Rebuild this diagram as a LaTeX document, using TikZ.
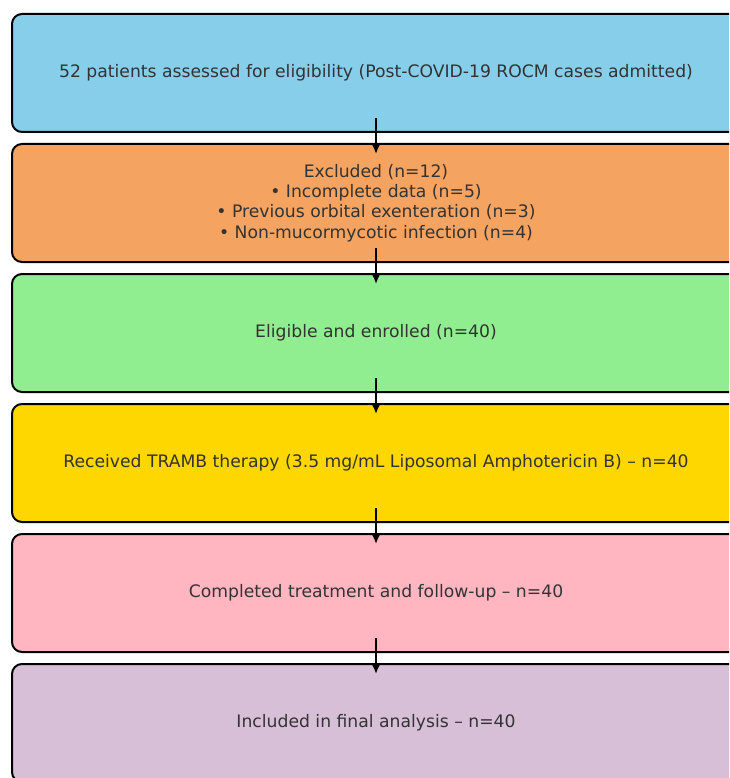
\documentclass[tikz,border=0pt]{standalone}
\usepackage{fontspec}
\setmainfont{DejaVu Sans}
\usepackage{tikz}
\usetikzlibrary{arrows.meta,positioning}
\definecolor{boxblue}{HTML}{87CEEB}
\definecolor{boxorange}{HTML}{F4A460}
\definecolor{boxgreen}{HTML}{90EE90}
\definecolor{boxgold}{HTML}{FFD700}
\definecolor{boxpink}{HTML}{FFB6C1}
\definecolor{boxthistle}{HTML}{D8BFD8}
\definecolor{txtgray}{HTML}{333333}
\tikzset{
  flowbox/.style={draw=black, line width=2pt, rounded corners=10pt,
    minimum width=728pt, minimum height=118pt, outer sep=0pt,
    align=center, text=txtgray, font=\fontsize{17.2}{20.4}\selectfont},
  flowarrow/.style={line width=2pt, -{Latex[length=10pt,width=9pt]}}
}
\begin{document}
\begin{tikzpicture}[x=1pt,y=-1pt]
   \path[use as bounding box, clip] (0,0) rectangle (729,778);
   % the six stages
   \node[flowbox, fill=boxblue] (assessed) at (376,73)
      {52 patients assessed for eligibility (Post-COVID-19 ROCM cases admitted)};
   \node[flowbox, fill=boxorange, below=12pt of assessed] (excluded)
      {Excluded (n=12)\\ • Incomplete data (n=5)\\ • Previous orbital exenteration (n=3)\\ • Non-mucormycotic infection (n=4)};
   \node[flowbox, fill=boxgreen, below=12pt of excluded] (enrolled)
      {Eligible and enrolled (n=40)};
   \node[flowbox, fill=boxgold, below=12pt of enrolled] (therapy)
      {Received TRAMB therapy (3.5 mg/mL Liposomal Amphotericin B) – n=40};
   \node[flowbox, fill=boxpink, below=12pt of therapy] (completed)
      {Completed treatment and follow-up – n=40};
   \node[flowbox, fill=boxthistle, below=12pt of completed] (analysis)
      {Included in final analysis – n=40};

   \draw[flowarrow] ([yshift=14pt]assessed.south) -- ([yshift=-10pt]excluded.north);
   \draw[flowarrow] ([yshift=14pt]excluded.south) -- ([yshift=-10pt]enrolled.north);
   \draw[flowarrow] ([yshift=14pt]enrolled.south) -- ([yshift=-10pt]therapy.north);
   \draw[flowarrow] ([yshift=14pt]therapy.south) -- ([yshift=-10pt]completed.north);
   \draw[flowarrow] ([yshift=14pt]completed.south) -- ([yshift=-10pt]analysis.north);
\end{tikzpicture}
\end{document}
